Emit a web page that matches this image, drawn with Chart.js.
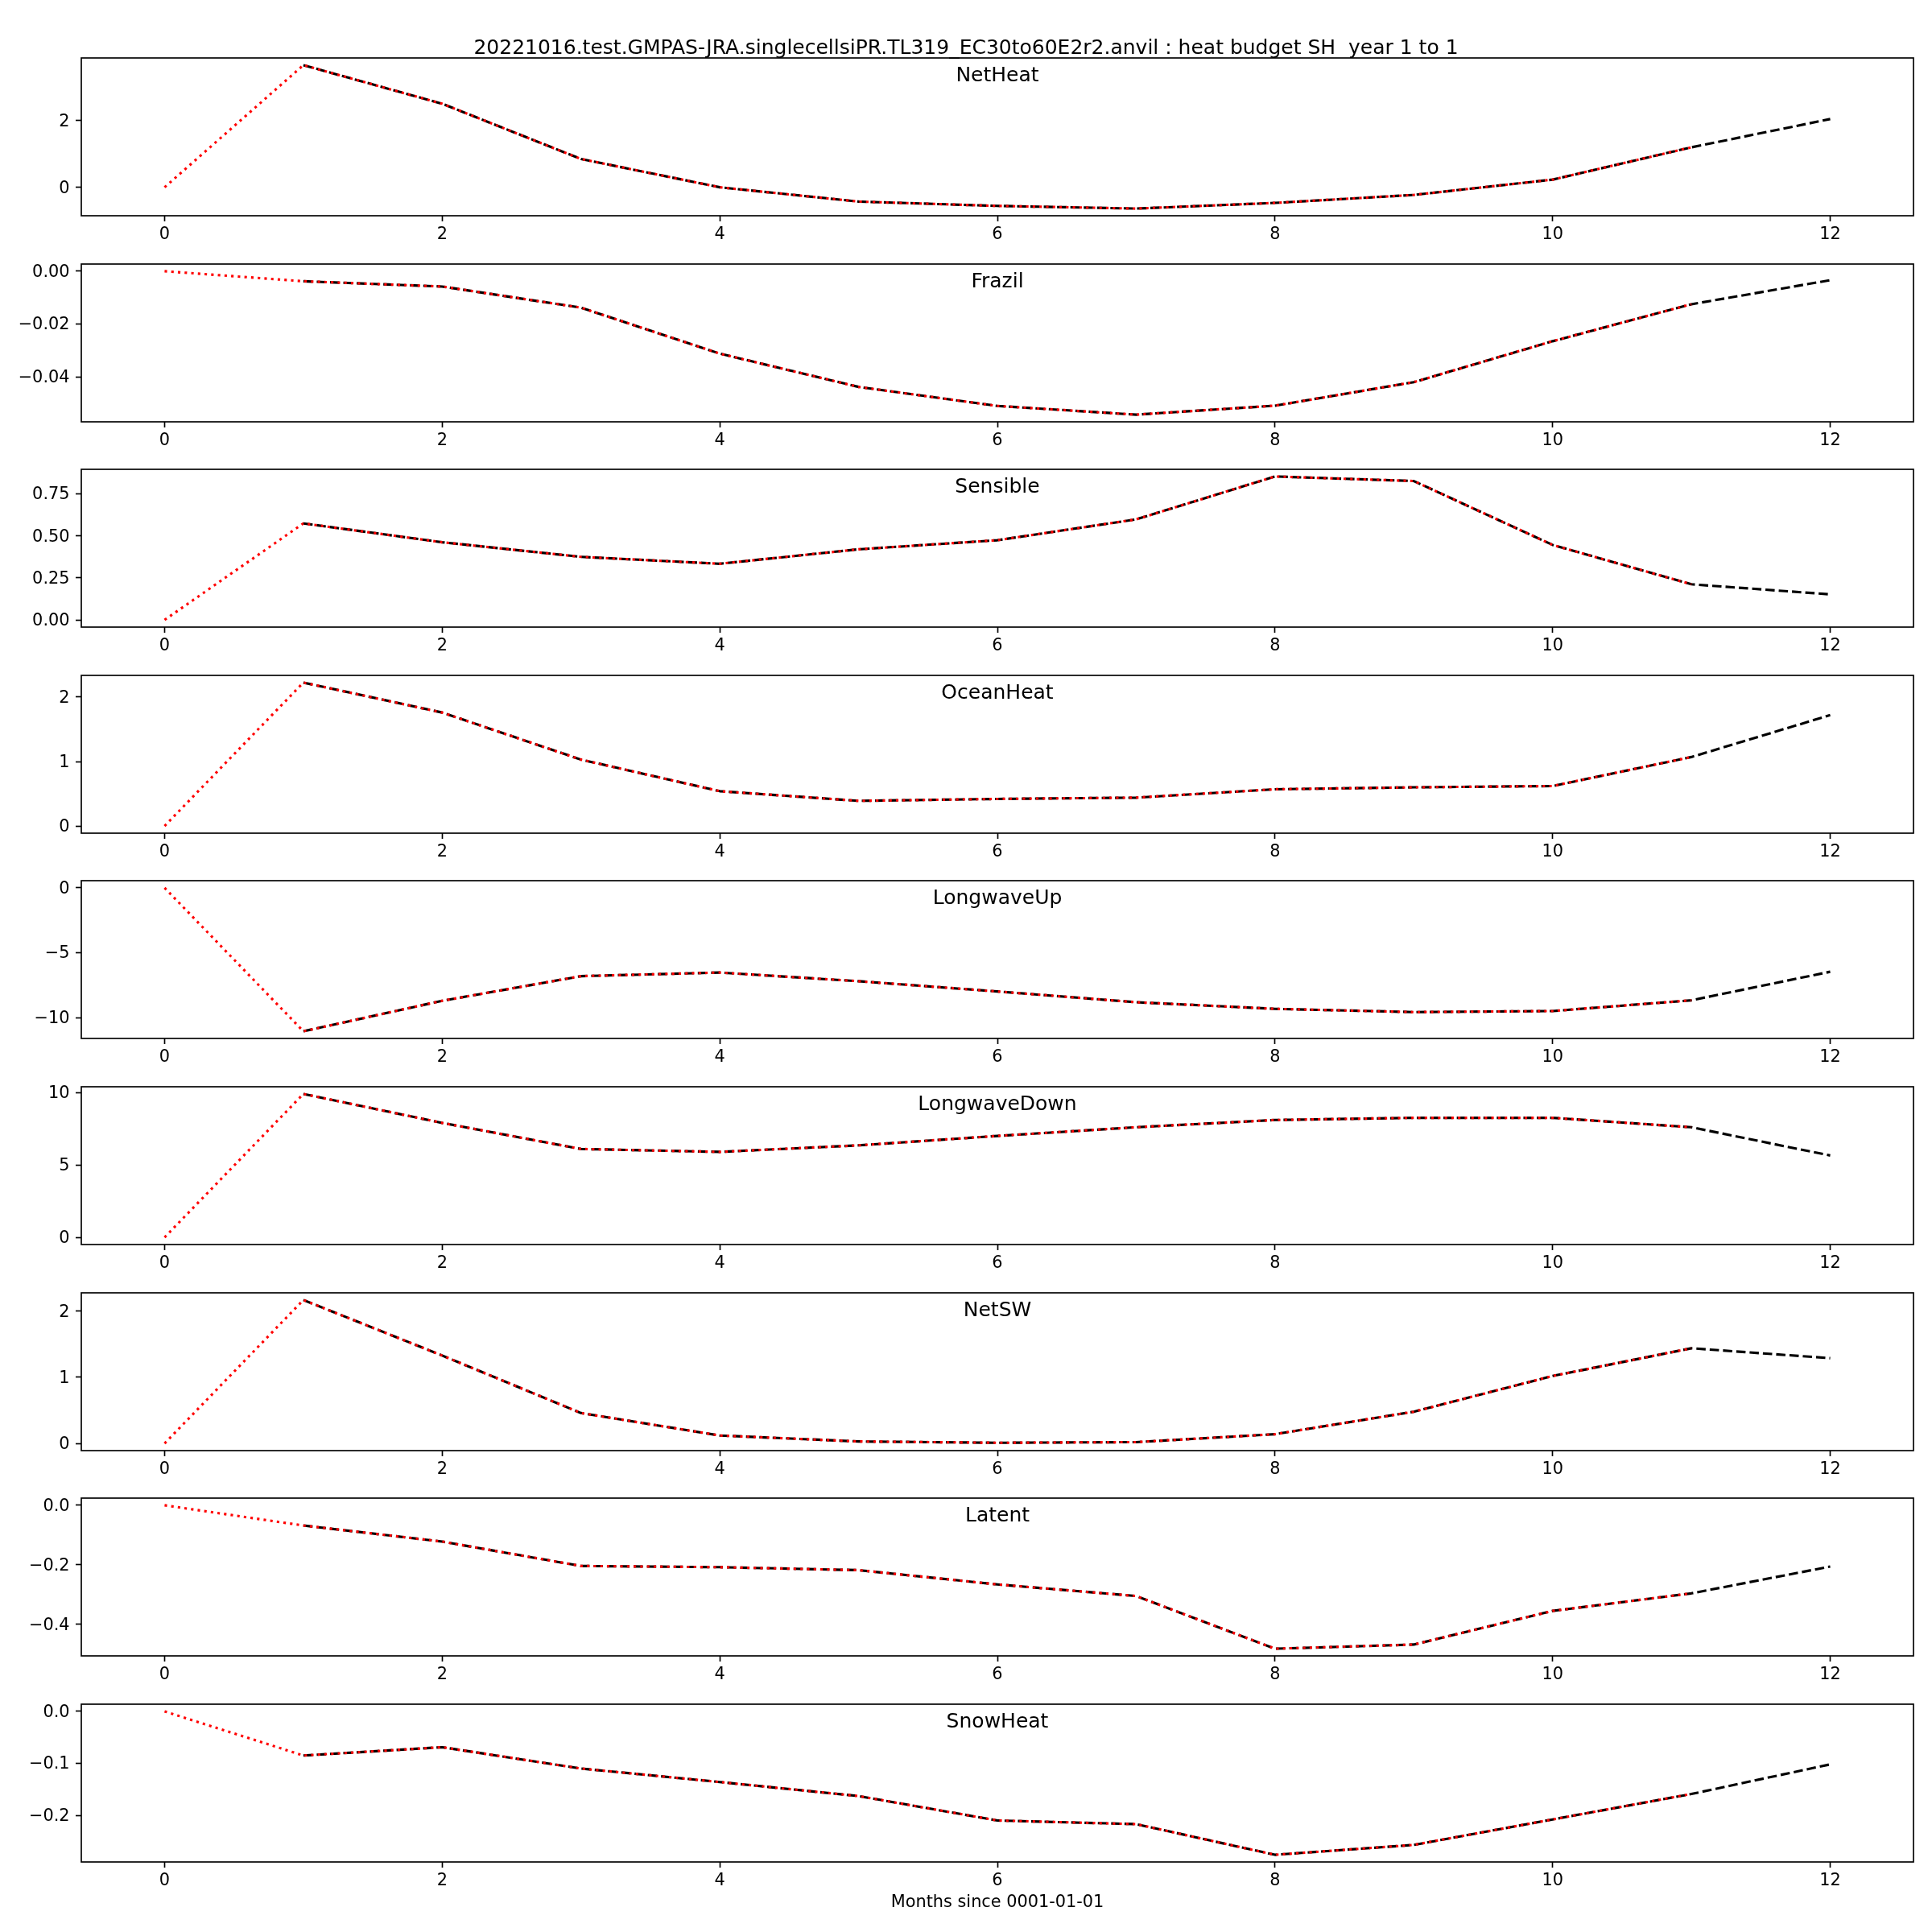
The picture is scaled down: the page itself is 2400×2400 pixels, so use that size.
<!DOCTYPE html>
<html>
<head>
<meta charset="utf-8">
<script src="https://cdn.jsdelivr.net/npm/chart.js@4"></script>
<style>
  html, body { margin: 0; padding: 0; background: #ffffff; }
  body { width: 2400px; height: 2400px; position: relative; overflow: hidden; }
  canvas { position: absolute; left: 0; }
  #suptitle { position: absolute; left: 0; width: 2400px; top: 46px; text-align: center;
    font-family: "DejaVu Sans"; font-size: 25px; line-height: 25px; color: #000; white-space: pre; z-index: 5; }
</style>
</head>
<body>
<div id="suptitle">20221016.test.GMPAS-JRA.singlecellsiPR.TL319_EC30to60E2r2.anvil : heat budget SH  year 1 to 1</div>
<script>
// ---------------- data ----------------
const months = [1, 2, 3, 4, 5, 6, 7, 8, 9, 10, 11, 12];
const shiftedMonths = [0, 1, 2, 3, 4, 5, 6, 7, 8, 9, 10, 11];
const monthTicks = [0, 2, 4, 6, 8, 10, 12];
const xLabel = 'Months since 0001-01-01';

const panelNames = ['NetHeat', 'Frazil', 'Sensible', 'OceanHeat', 'LongwaveUp', 'LongwaveDown', 'NetSW', 'Latent', 'SnowHeat'];

const netHeat      = [3.67, 2.51, 0.85, 0.0, -0.43, -0.56, -0.64, -0.47, -0.23, 0.23, 1.20, 2.05];
const frazil       = [-0.0038, -0.0058, -0.0138, -0.0312, -0.0438, -0.0510, -0.0543, -0.0509, -0.0420, -0.0265, -0.0125, -0.0034];
const sensible     = [0.574, 0.462, 0.375, 0.334, 0.420, 0.474, 0.598, 0.853, 0.826, 0.446, 0.212, 0.152];
const oceanHeat    = [2.225, 1.76, 1.03, 0.54, 0.39, 0.42, 0.44, 0.57, 0.60, 0.62, 1.07, 1.72];
const longwaveUp   = [-11.06, -8.71, -6.81, -6.53, -7.20, -7.99, -8.82, -9.33, -9.58, -9.50, -8.67, -6.47];
const longwaveDown = [9.9, 7.9, 6.1, 5.9, 6.35, 7.0, 7.6, 8.1, 8.25, 8.25, 7.6, 5.65];
const netSW        = [2.17, 1.33, 0.46, 0.12, 0.03, 0.01, 0.02, 0.14, 0.48, 1.02, 1.44, 1.29];
const latent       = [-0.068, -0.122, -0.204, -0.208, -0.218, -0.266, -0.305, -0.482, -0.468, -0.355, -0.296, -0.206];
const snowHeat     = [-0.085, -0.069, -0.110, -0.136, -0.163, -0.210, -0.217, -0.276, -0.257, -0.208, -0.159, -0.102];

const netHeatTicks      = [0, 2];
const frazilTicks       = [-0.04, -0.02, 0.00];
const sensibleTicks     = [0.00, 0.25, 0.50, 0.75];
const oceanHeatTicks    = [0, 1, 2];
const longwaveUpTicks   = [-10, -5, 0];
const longwaveDownTicks = [0, 5, 10];
const netSWTicks        = [0, 1, 2];
const latentTicks       = [-0.4, -0.2, 0.0];
const snowHeatTicks     = [-0.2, -0.1, 0.0];
const tickDecimals      = [0, 2, 2, 0, 0, 0, 0, 1, 1];

const panelValues = [netHeat, frazil, sensible, oceanHeat, longwaveUp, longwaveDown, netSW, latent, snowHeat];
const panelTicks  = [netHeatTicks, frazilTicks, sensibleTicks, oceanHeatTicks, longwaveUpTicks, longwaveDownTicks, netSWTicks, latentTicks, snowHeatTicks];

// ---------------- layout / style ----------------
const FONT = 'DejaVu Sans';
const TICK_FONT = 20.83;
const TITLE_FONT = 25;
const LW = 3.125;
const SPINE_W = 1.67;
const AX_TOP0 = 72, AX_STEP = 255.6, AX_H = 196;
const AX_LEFT = 101, AX_RIGHT = 2377;
const PAD_TOP = 30;

Chart.defaults.font.family = FONT;
Chart.defaults.color = '#000';

const framePlugin = {
  id: 'frame',
  afterDatasetsDraw(chart, args, opts) {
    const { ctx, chartArea: a } = chart;
    ctx.save();
    ctx.strokeStyle = '#000';
    ctx.lineWidth = SPINE_W;
    ctx.strokeRect(a.left, a.top, a.right - a.left, a.bottom - a.top);
    ctx.font = TITLE_FONT + 'px "' + FONT + '"';
    ctx.fillStyle = '#000';
    ctx.textAlign = 'center';
    ctx.textBaseline = 'alphabetic';
    ctx.fillText(opts.text, (a.left + a.right) / 2, a.top + 28.5);
    ctx.restore();
  }
};

function fmt(v, dec) {
  let s = Number(v).toFixed(dec);
  if (Number(s) === 0) s = Math.abs(0).toFixed(dec);
  return s.replace('-', '\u2212');
}

function makePanel(i) {
  const vals = panelValues[i];
  const ticks = panelTicks[i];
  const dec = tickDecimals[i];
  const isLast = i === panelNames.length - 1;
  const axTop = Math.round(AX_TOP0 + i * AX_STEP);
  const xh = isLast ? (2400 - (axTop + AX_H)) : 60;
  const cTop = axTop - PAD_TOP;
  const cH = PAD_TOP + AX_H + xh;

  const canvas = document.createElement('canvas');
  canvas.width = 2400; canvas.height = cH;
  canvas.style.top = cTop + 'px';
  canvas.style.width = '2400px'; canvas.style.height = cH + 'px';
  document.body.appendChild(canvas);

  const blackData = months.map((m, k) => ({ x: m, y: vals[k] }));
  const redData = shiftedMonths.map((m, k) => ({ x: m, y: k === 0 ? 0 : vals[k - 1] }));

  const all = vals.concat([0]);
  const lo = Math.min(...all), hi = Math.max(...all);
  const mg = (hi - lo) * 0.05;

  new Chart(canvas, {
    type: 'line',
    data: {
      datasets: [
        { data: redData, borderColor: '#ff0000', borderWidth: LW, borderDash: [3.125, 5.16],
          borderCapStyle: 'butt', borderJoinStyle: 'round', pointRadius: 0, tension: 0, fill: false, order: 0 },
        { data: blackData, borderColor: '#000000', borderWidth: LW, borderDash: [11.56, 5.0],
          borderCapStyle: 'butt', borderJoinStyle: 'round', pointRadius: 0, tension: 0, fill: false, order: 1 }
      ]
    },
    options: {
      responsive: false,
      animation: false,
      events: [],
      devicePixelRatio: 1,
      layout: { padding: { left: 0, right: 2400 - AX_RIGHT, top: PAD_TOP, bottom: 0 } },
      plugins: { legend: { display: false }, tooltip: { enabled: false }, title: { display: false },
                 frame: { text: panelNames[i] } },
      scales: {
        x: {
          type: 'linear', min: -0.6, max: 12.6, bounds: 'data',
          afterBuildTicks: s => { s.ticks = monthTicks.map(v => ({ value: v })); },
          afterFit: s => { s.height = xh; },
          grid: { display: true, drawOnChartArea: false, drawTicks: true, tickLength: 7, tickWidth: SPINE_W, tickColor: '#000' },
          border: { display: false },
          ticks: { autoSkip: false, maxRotation: 0, padding: 4.5, color: '#000',
                   font: { size: TICK_FONT, family: FONT }, callback: v => String(v) },
          title: { display: isLast, text: xLabel, color: '#000', font: { size: TICK_FONT, family: FONT },
                   padding: { top: 0, bottom: 23.5 } }
        },
        y: {
          type: 'linear', min: lo - mg, max: hi + mg, bounds: 'data',
          afterBuildTicks: s => { s.ticks = ticks.map(v => ({ value: v })); },
          afterFit: s => { s.width = AX_LEFT; },
          grid: { display: true, drawOnChartArea: false, drawTicks: true, tickLength: 7, tickWidth: SPINE_W, tickColor: '#000' },
          border: { display: false },
          ticks: { autoSkip: false, padding: 7.5, labelOffset: 1.5, color: '#000',
                   font: { size: TICK_FONT, family: FONT }, callback: v => fmt(v, dec) }
        }
      }
    },
    plugins: [framePlugin]
  });
}

for (let i = 0; i < panelNames.length; i++) makePanel(i);
</script>
</body>
</html>
